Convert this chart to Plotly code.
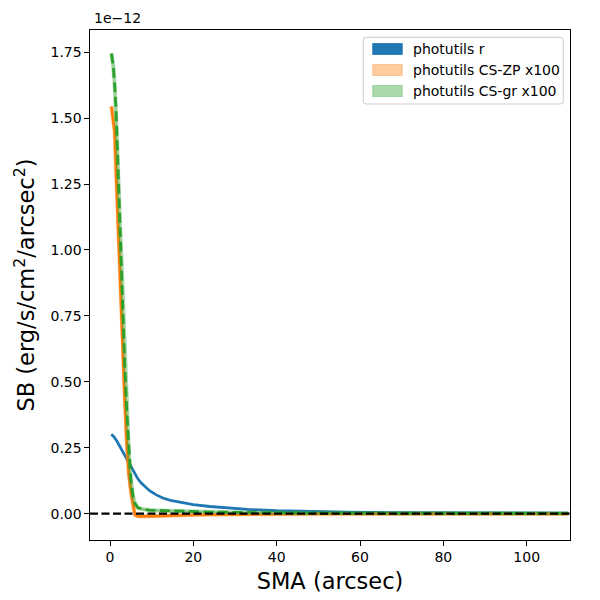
import plotly.graph_objects as go

# SMA (arcsec)
sma = [0.34, 0.55, 0.77, 1.1, 1.4, 1.7, 2.0, 2.5, 3.0, 3.5, 4.0, 4.5, 5.0, 5.5, 6.0,
       6.7, 7.5, 8.5, 9.5, 11, 12.7, 14.5, 17.5, 20, 24, 28, 33, 40, 48, 57, 68, 80, 95, 110]

# Surface brightness in units of 1e-12 erg/s/cm^2/arcsec^2
sb_r = [0.300, 0.298, 0.294, 0.288, 0.282, 0.274, 0.265, 0.251, 0.239, 0.225, 0.209, 0.193,
        0.178, 0.164, 0.150, 0.132, 0.116, 0.101, 0.087, 0.072, 0.059, 0.050, 0.040, 0.034,
        0.027, 0.021, 0.016, 0.011, 0.008, 0.006, 0.004, 0.003, 0.002, 0.0015]
err_r = [0.004, 0.004, 0.004, 0.004, 0.003, 0.003, 0.003, 0.003, 0.003, 0.003, 0.002, 0.002,
         0.002, 0.002, 0.002, 0.002, 0.002, 0.001, 0.001, 0.001, 0.001, 0.001, 0.001, 0.001,
         0.001, 0.001, 0.001, 0.001, 0.001, 0.001, 0.001, 0.001, 0.001, 0.001]

sb_zp = [1.544, 1.520, 1.494, 1.450, 1.320, 1.190, 1.050, 0.830, 0.640, 0.440, 0.270, 0.150,
         0.080, 0.035, -0.005, -0.010, -0.011, -0.010, -0.010, -0.009, -0.008, -0.007, -0.006,
         -0.005, -0.004, -0.003, -0.002, -0.002, -0.001, -0.001, -0.001, -0.001, -0.001, -0.001]
err_zp = [0.010, 0.010, 0.010, 0.010, 0.010, 0.010, 0.010, 0.009, 0.008, 0.007, 0.006, 0.005,
          0.005, 0.004, 0.004, 0.004, 0.003, 0.003, 0.003, 0.003, 0.002, 0.002, 0.002, 0.002,
          0.002, 0.002, 0.002, 0.001, 0.001, 0.001, 0.001, 0.001, 0.001, 0.001]

sb_gr = [1.745, 1.725, 1.700, 1.630, 1.550, 1.420, 1.270, 1.064, 0.800, 0.580, 0.400, 0.240,
         0.130, 0.068, 0.038, 0.022, 0.018, 0.015, 0.013, 0.012, 0.011, 0.010, 0.009, 0.008,
         0.006, 0.005, 0.004, 0.003, 0.002, 0.002, 0.001, 0.001, 0.001, 0.001]
err_gr = [0.010, 0.010, 0.010, 0.010, 0.010, 0.010, 0.010, 0.009, 0.008, 0.007, 0.006, 0.005,
          0.005, 0.004, 0.004, 0.004, 0.003, 0.003, 0.003, 0.003, 0.002, 0.002, 0.002, 0.002,
          0.002, 0.002, 0.002, 0.001, 0.001, 0.001, 0.001, 0.001, 0.001, 0.001]

labels = ["photutils r", "photutils CS-ZP x100", "photutils CS-gr x100"]
yticks = [0.0, 0.25, 0.5, 0.75, 1.0, 1.25, 1.5, 1.75]
xticks = [0, 20, 40, 60, 80, 100]

FONT = "DejaVu Sans"
fig = go.Figure()

series = [
    (sb_r, err_r, labels[0], "#1f77b4", "rgba(31,119,180,1.0)", "solid", False),
    (sb_zp, err_zp, labels[1], "#ff7f0e", "rgba(255,127,14,0.4)", "solid", True),
    (sb_gr, err_gr, labels[2], "#2ca02c", "rgba(44,160,44,0.4)", "10px,4.5px", True),
]

for vals, err, lab, col, fcol, dash, halo in series:
    upper = [v + e for v, e in zip(vals, err)]
    lower = [v - e for v, e in zip(vals, err)]
    fig.add_trace(go.Scatter(
        x=sma + sma[::-1], y=upper + lower[::-1], fill="toself",
        fillcolor=fcol, line=dict(width=0, color=fcol), mode="lines",
        name=lab, showlegend=False, hoverinfo="skip"))
    if halo:
        fig.add_trace(go.Scatter(x=sma, y=vals, mode="lines",
                                 line=dict(color=fcol, width=4),
                                 showlegend=False, hoverinfo="skip"))
    fig.add_trace(go.Scatter(x=sma, y=vals, mode="lines",
                             line=dict(color=col, width=2.8, dash=dash),
                             showlegend=False))

fig.add_shape(type="line", xref="paper", yref="y", x0=0, x1=1, y0=0, y1=0,
              line=dict(color="black", width=2.2, dash="8px,3.5px"))

# ---- legend drawn as shapes + text (matplotlib-style patches) ----
PW, PH = 480.0, 510.0          # plot area size in px
def px(v):
    return v / PW
def py(v):
    return v / PH

bx0, bx1 = 1 - px(206.7), 1 - px(6.7)
by1, by0 = 1 - py(7.3), 1 - py(74.0)
r_x, r_y = px(3), py(3)
path = (f"M{bx0 + r_x},{by1} L{bx1 - r_x},{by1} Q{bx1},{by1} {bx1},{by1 - r_y} "
        f"L{bx1},{by0 + r_y} Q{bx1},{by0} {bx1 - r_x},{by0} "
        f"L{bx0 + r_x},{by0} Q{bx0},{by0} {bx0},{by0 + r_y} "
        f"L{bx0},{by1 - r_y} Q{bx0},{by1} {bx0 + r_x},{by1} Z")
fig.add_shape(type="path", xref="paper", yref="paper", path=path,
              fillcolor="rgba(255,255,255,0.8)", line=dict(color="#cccccc", width=1),
              layer="above")

row_offsets = [19.0, 40.0, 61.0]   # px below plot top (row centres)
for (vals, err, lab, col, fcol, dash, halo), off in zip(series, row_offsets):
    yc = 1 - py(off)
    fig.add_shape(type="rect", xref="paper", yref="paper",
                  x0=px(282.7), x1=px(312.3), y0=yc - py(5.5), y1=yc + py(5.5),
                  fillcolor=fcol, line=dict(color=fcol, width=0.8), layer="above")
    fig.add_annotation(text=lab, xref="paper", yref="paper", x=px(321.0), y=yc,
                       xanchor="left", yanchor="middle", showarrow=False,
                       font=dict(family=FONT, size=14, color="black"))

fig.update_layout(
    width=592, height=592,
    margin=dict(l=82, r=30, t=22, b=60),
    paper_bgcolor="white", plot_bgcolor="white",
    font=dict(family=FONT, size=14, color="black"),
    showlegend=False,
    xaxis=dict(range=[-4.8, 110.4], tickvals=xticks, ticks="outside", ticklen=4.5,
               tickwidth=1.1, tickcolor="black", showline=True, linecolor="black",
               linewidth=1.1, mirror=True, showgrid=False, zeroline=False,
               tickfont=dict(size=14), automargin=False,
               title=dict(text="SMA (arcsec)", font=dict(size=22.5), standoff=8)),
    yaxis=dict(range=[-0.100, 1.834], tickvals=yticks, tickformat=".2f",
               ticks="outside", ticklen=4.5, tickwidth=1.1, tickcolor="black",
               showline=True, linecolor="black", linewidth=1.1, mirror=True,
               showgrid=False, zeroline=False, tickfont=dict(size=14), automargin=False,
               title=dict(text="SB (erg/s/cm<sup>2</sup>/arcsec<sup>2</sup>)",
                          font=dict(size=22.5), standoff=9)),
)

fig.add_annotation(text="1e\u221212", xref="paper", yref="paper", x=0, y=1,
                   xanchor="left", yanchor="bottom", yshift=2, xshift=2, showarrow=False,
                   font=dict(family=FONT, size=14))

fig.write_html("out.html")
